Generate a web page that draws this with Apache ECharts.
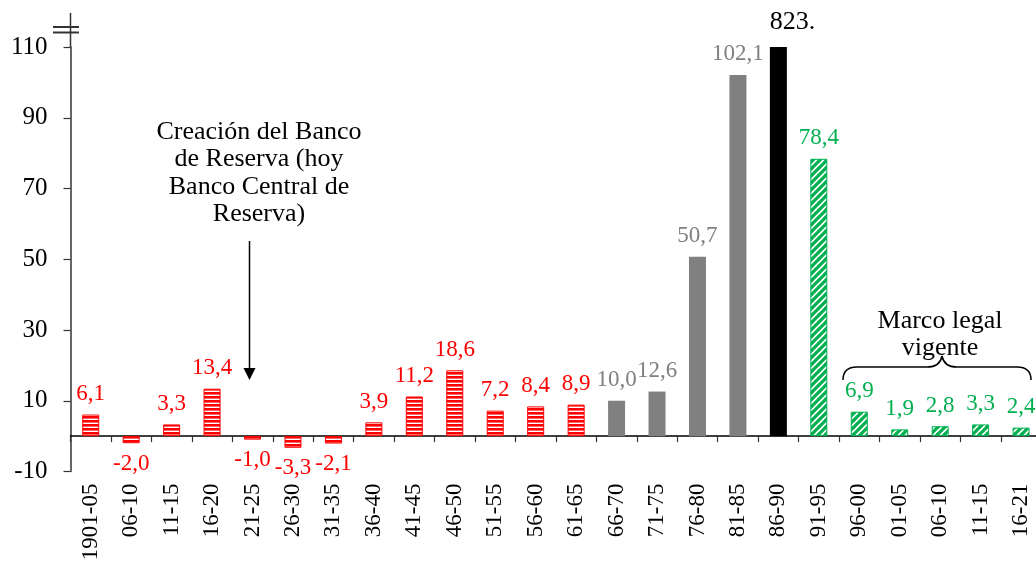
<!DOCTYPE html>
<html>
<head>
<meta charset="utf-8">
<script src="https://cdn.jsdelivr.net/npm/echarts@6/dist/echarts.min.js"></script>
<style>
  html, body { margin: 0; padding: 0; background: #fff; }
  #chart { width: 1036px; height: 561px; }
</style>
</head>
<body>
<div id="chart"></div>
<script>
// Five-year periods
const periods = ['1901-05', '06-10', '11-15', '16-20', '21-25', '26-30', '31-35', '36-40',
  '41-45', '46-50', '51-55', '56-60', '61-65', '66-70', '71-75', '76-80', '81-85', '86-90',
  '91-95', '96-00', '01-05', '06-10', '11-15', '16-21'];

// Average annual inflation (%) per period, grouped by regime
const redValues = [6.1, -2.0, 3.3, 13.4, -1.0, -3.3, -2.1, 3.9, 11.2, 18.6, 7.2, 8.4, 8.9];
const grayValues = [10.0, 12.6, 50.7, 102.1];
const blackValues = [823];
const greenValues = [78.4, 6.9, 1.9, 2.8, 3.3, 2.4];

// Value axis
const yMin = -10;
const yMax = 110;
const yStep = 20;

const SERIF = "'Liberation Serif', 'Times New Roman', serif";
const RED = '#FF0000';
const GRAY = '#808080';
const GREEN = '#00B050';

// Horizontal red stripes
function stripePattern() {
  const c = document.createElement('canvas');
  c.width = 4; c.height = 4;
  const g = c.getContext('2d');
  g.fillStyle = RED; g.fillRect(0, 0, 4, 4);
  g.fillStyle = '#fff'; g.fillRect(0, 2.6, 4, 1.4);
  return c;
}
// Upward diagonal green hatch
function hatchPattern() {
  const s = 7;
  const c = document.createElement('canvas');
  c.width = s; c.height = s;
  const g = c.getContext('2d');
  g.fillStyle = '#fff'; g.fillRect(0, 0, s, s);
  g.strokeStyle = GREEN; g.lineWidth = 3.2;
  g.beginPath();
  g.moveTo(-1, s + 1); g.lineTo(s + 1, -1);
  g.moveTo(-1, 1); g.lineTo(1, -1);
  g.moveTo(s - 1, s + 1); g.lineTo(s + 1, s - 1);
  g.stroke();
  return c;
}

// Place each group at its own slots along the category axis
function padded(values, start) {
  const arr = periods.map(() => null);
  values.forEach((v, i) => { arr[start + i] = v; });
  return arr;
}

const commaFmt = p => (p.value == null ? '' : p.value.toFixed(1).replace('.', ','));

function barSeries(name, data, fill, border, labelColor, fmt, fontSize, dist, offset) {
  return {
    name: name,
    type: 'bar',
    xAxisIndex: 0,
    data: data.map(v => (v == null ? null : {
      value: v,
      label: { position: v < 0 ? 'bottom' : 'top' }
    })),
    barWidth: 17,
    barGap: '-100%',
    clip: true,
    itemStyle: { color: fill, borderColor: border || fill, borderWidth: border ? 1 : 0 },
    label: {
      show: true,
      distance: dist,
      offset: offset || [0, 0],
      color: labelColor,
      fontFamily: SERIF,
      fontSize: fontSize,
      formatter: fmt
    },
    emphasis: { disabled: true },
    silent: true,
    animation: false
  };
}

function seg(x1, y1, x2, y2, color, w) {
  return { type: 'line', silent: true, shape: { x1, y1, x2, y2 }, style: { stroke: color, lineWidth: w } };
}
function curve(x1, y1, cx, cy, x2, y2) {
  return {
    type: 'bezierCurve', silent: true,
    shape: { x1, y1, x2, y2, cpx1: cx, cpy1: cy },
    style: { stroke: '#000', lineWidth: 1.5, fill: null }
  };
}

const chart = echarts.init(document.getElementById('chart'), null, { renderer: 'canvas' });

const redStart = 0;
const grayStart = redStart + redValues.length;
const blackStart = grayStart + grayValues.length;
const greenStart = blackStart + blackValues.length;

chart.setOption({
  backgroundColor: '#fff',
  animation: false,
  grid: {
    left: 70.5, width: 970.8, top: 47, height: 424.5,
    containLabel: false, outerBoundsMode: 'none'
  },
  xAxis: [
    {
      type: 'category',
      data: periods,
      axisLine: { onZero: true, lineStyle: { color: '#000', width: 1.5 } },
      axisTick: { show: true, length: 6, interval: 0, lineStyle: { color: '#333', width: 1.2 } },
      axisLabel: { show: false },
      splitLine: { show: false }
    },
    {
      type: 'category',
      data: periods,
      position: 'bottom',
      axisLine: { show: false, onZero: false },
      axisTick: { show: false },
      axisLabel: {
        show: true, interval: 0, rotate: 90, margin: 12,
        color: '#000', fontFamily: SERIF, fontSize: 23
      },
      splitLine: { show: false }
    }
  ],
  yAxis: {
    type: 'value',
    min: yMin,
    max: yMax,
    interval: yStep,
    axisLine: { show: true, lineStyle: { color: '#333', width: 1.5 } },
    axisTick: { show: true, length: 7, lineStyle: { color: '#333', width: 1.2 } },
    axisLabel: { color: '#000', fontFamily: SERIF, fontSize: 25, margin: 23 },
    splitLine: { show: false }
  },
  series: [
    barSeries('red', padded(redValues, redStart),
      { image: stripePattern(), repeat: 'repeat' }, RED, RED, commaFmt, 23, 9),
    barSeries('gray', padded(grayValues, grayStart), GRAY, null, GRAY, commaFmt, 23, 9),
    barSeries('black', padded(blackValues, blackStart), '#000', null, '#000',
      p => (p.value == null ? '' : Math.round(p.value) + '.'), 26, 12, [14, 0]),
    barSeries('green', padded(greenValues, greenStart),
      { image: hatchPattern(), repeat: 'repeat' }, GREEN, GREEN, commaFmt, 23, 9)
  ],
  graphic: [
    // axis break above the top tick
    seg(70.5, 13, 70.5, 47, '#333', 1.5),
    seg(53, 27, 79, 27, '#333', 2),
    seg(53, 32.5, 79, 32.5, '#333', 2),
    // central bank note
    {
      type: 'text', x: 259, y: 118, silent: true,
      style: {
        text: 'Creación del Banco\nde Reserva (hoy\nBanco Central de\nReserva)',
        align: 'center', verticalAlign: 'top', lineHeight: 27.5,
        font: '26px ' + SERIF, fill: '#000'
      }
    },
    seg(249.5, 241, 249.5, 369, '#000', 1.5),
    { type: 'polygon', silent: true, shape: { points: [[243.5, 368], [255.5, 368], [249.5, 380]] }, style: { fill: '#000' } },
    // current legal framework
    {
      type: 'text', x: 940, y: 308, silent: true,
      style: {
        text: 'Marco legal\nvigente',
        align: 'center', verticalAlign: 'top', lineHeight: 27,
        font: '26px ' + SERIF, fill: '#000'
      }
    },
    curve(843, 380, 843, 367, 857, 367),
    seg(857, 367, 927, 367, '#000', 1.5),
    curve(927, 367, 940, 367, 942, 356),
    curve(942, 356, 944, 367, 957, 367),
    seg(957, 367, 1017, 367, '#000', 1.5),
    curve(1017, 367, 1031, 367, 1031, 380)
  ]
});
</script>
</body>
</html>
